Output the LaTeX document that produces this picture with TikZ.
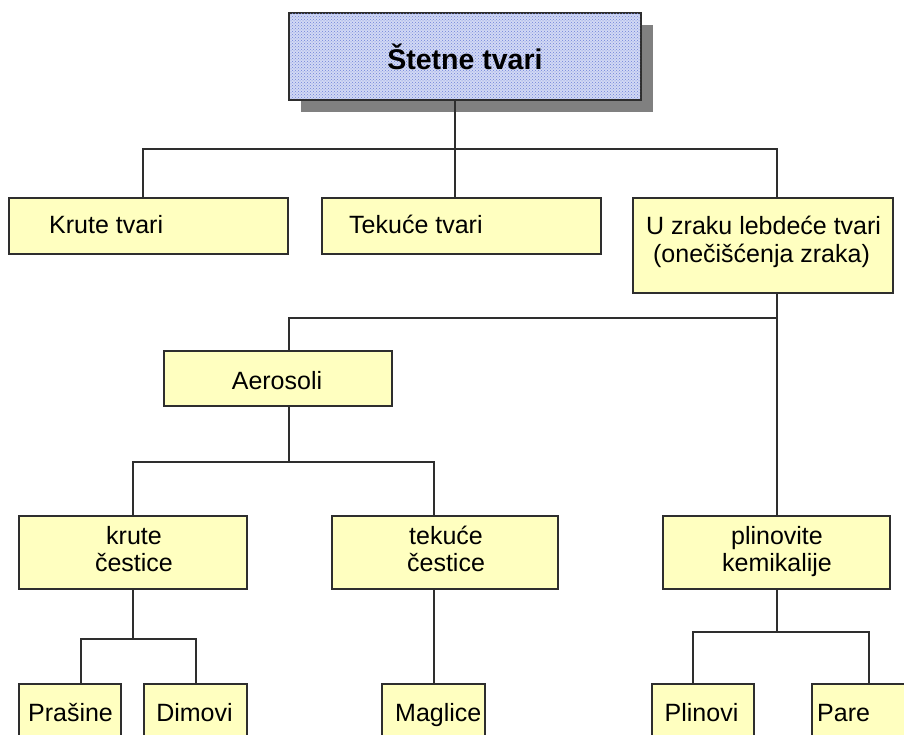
\documentclass[tikz,border=0pt]{standalone}
\usepackage{fontspec}
\setmainfont{Liberation Sans}
\usetikzlibrary{patterns}
\definecolor{boxyellow}{HTML}{FFFFC0}
\definecolor{edge}{HTML}{2E2E2E}
\definecolor{titleblue}{HTML}{D2D9F4}
\definecolor{dotblue}{HTML}{6E82D8}
\tikzset{
  box/.style={draw=edge, line width=1.4pt, fill=boxyellow, inner sep=0pt, rectangle},
  conn/.style={draw=edge, line width=1.3pt},
  txt/.style={font=\fontsize{25}{27}\selectfont, inner sep=0pt, anchor=base, align=center},
  txtl/.style={txt, anchor=base west, align=left},
}
\begin{document}
\begin{tikzpicture}[x=1pt,y=-1pt]
\useasboundingbox (0,0) rectangle (904,735);
\clip (0,0) rectangle (904,735);
% title
\fill[gray] (301,25) rectangle (653,112);
\node[box, fill=titleblue, minimum width=352pt, minimum height=87pt] (top) at (465,56.5) {};
\fill[pattern=crosshatch dots, pattern color=dotblue] (290,14) rectangle (640,99);
\draw[edge, line width=1.4pt] (top.north west) rectangle (top.south east);
\node[txt, font=\fontsize{28.5}{30}\selectfont\bfseries] (top-t) at (465,70) {Štetne tvari};
% level 1
\node[box, minimum width=279pt, minimum height=56pt] (krute) at (148.5,226) {};
\node[box, minimum width=279pt, minimum height=56pt] (tek) at (461.5,226) {};
\node[box, minimum width=260pt, minimum height=95pt] (zrak) at (763,245.5) {};
\node[txtl] (krute-t) at (49,234) {Krute tvari};
\node[txtl] (tek-t) at (349,234) {Tekuće tvari};
\node[txtl, font=\fontsize{25}{28}\selectfont] (zrak-t) at (646,262) {U zraku lebdeće tvari\\\ (onečišćenja zraka)};
% level 2
\node[box, minimum width=228pt, minimum height=55pt] (aero) at (278,378.5) {};
\node[txt] (aero-t) at (277,389) {Aerosoli};
% level 3
\node[box, minimum width=228pt, minimum height=73pt] (kc) at (133,552.5) {};
\node[box, minimum width=226pt, minimum height=73pt] (tc) at (445,552.5) {};
\node[box, minimum width=227pt, minimum height=73pt] (plin) at (776.5,552.5) {};
\node[txt] (kc-t) at (134,571) {krute\\čestice};
\node[txt] (tc-t) at (446,571) {tekuće\\čestice};
\node[txt] (plin-t) at (777,571) {plinovite\\kemikalije};
% level 4
\node[box, minimum width=102pt, minimum height=76pt] (pras) at (70,722) {};
\node[box, minimum width=103pt, minimum height=76pt] (dim) at (195.5,722) {};
\node[box, minimum width=103pt, minimum height=76pt] (mag) at (433.5,722) {};
\node[box, minimum width=102pt, minimum height=76pt] (plinovi) at (703,722) {};
\node[box, minimum width=102pt, minimum height=76pt] (pare) at (863,722) {};
\node[txt] (pras-t) at (70.5,721) {Prašine};
\node[txt] (dim-t) at (194.5,721) {Dimovi};
\node[txtl] (mag-t) at (395,721) {Maglice};
\node[txt] (plinovi-t) at (701.5,721) {Plinovi};
\node[txtl] (pare-t) at (817,721) {Pare};
% connectors
\coordinate (h1L) at (143,149);
\coordinate (h1M) at (455,149);
\coordinate (h1R) at (777,149);
\draw[conn] (h1M |- top.south) -- (h1M);
\draw[conn] (h1L |- krute.north) -- (h1L) -- (h1R) -- (h1R |- zrak.north);
\draw[conn] (h1M) -- (h1M |- tek.north);
\coordinate (h2L) at (289,318);
\coordinate (h2R) at (777,318);
\draw[conn] (h2R |- zrak.south) -- (h2R |- plin.north);
\draw[conn] (h2L |- aero.north) -- (h2L) -- (h2R);
\coordinate (h3L) at (133,462);
\coordinate (h3M) at (289,462);
\coordinate (h3R) at (434,462);
\draw[conn] (h3M |- aero.south) -- (h3M);
\draw[conn] (h3L |- kc.north) -- (h3L) -- (h3R) -- (h3R |- tc.north);
\coordinate (h4a) at (81,639);
\coordinate (h4b) at (133,639);
\coordinate (h4c) at (196,639);
\draw[conn] (h4b |- kc.south) -- (h4b);
\draw[conn] (h4a |- pras.north) -- (h4a) -- (h4c) -- (h4c |- dim.north);
\coordinate (h4m) at (434,639);
\draw[conn] (h4m |- tc.south) -- (h4m |- mag.north);
\coordinate (h4p) at (693,632);
\coordinate (h4q) at (777,632);
\coordinate (h4r) at (869,632);
\draw[conn] (h4q |- plin.south) -- (h4q);
\draw[conn] (h4p |- plinovi.north) -- (h4p) -- (h4r) -- (h4r |- pare.north);
\end{tikzpicture}
\end{document}
